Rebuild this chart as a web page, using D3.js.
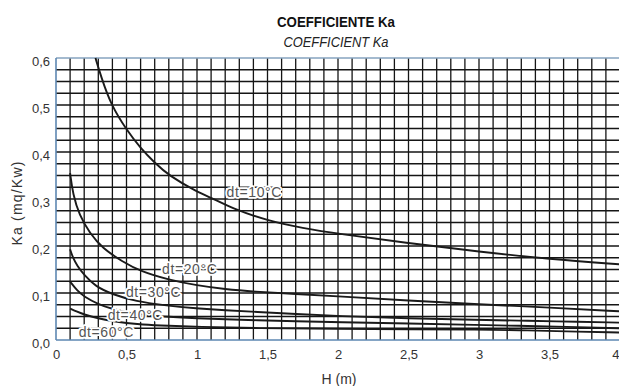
<!DOCTYPE html>
<html>
<head>
<meta charset="utf-8">
<script src="https://cdn.jsdelivr.net/npm/d3@7"></script>
<style>
  body { margin: 0; background: #fff; }
  svg { display: block; font-family: "Liberation Sans", Arial, sans-serif; }
</style>
</head>
<body>
<div id="chart"></div>
<script>
// tick values and labels
const xTicks = [0, 0.5, 1, 1.5, 2, 2.5, 3, 3.5, 4];
const xTickLabels = ["0", "0,5", "1", "1,5", "2", "2,5", "3", "3,5", "4"];
const yTicks = [0, 0.1, 0.2, 0.3, 0.4, 0.5, 0.6];
const yTickLabels = ["0,0", "0,1", "0,2", "0,3", "0,4", "0,5", "0,6"];

// curves: [H (m), Ka]
const dt10 = [[0.28, 0.6], [0.32, 0.56], [0.39, 0.5], [0.5, 0.447], [0.6, 0.408], [0.7, 0.377],
  [0.8, 0.35], [1.0, 0.315], [1.12, 0.3], [1.25, 0.28], [1.5, 0.254], [1.75, 0.238], [2, 0.226],
  [2.5, 0.206], [3, 0.188], [3.5, 0.172], [4, 0.161]];
const dt20 = [[0.1, 0.355], [0.12, 0.31], [0.165, 0.266], [0.24, 0.227], [0.33, 0.195], [0.47, 0.167],
  [0.6, 0.146], [0.8, 0.128], [1.0, 0.116], [1.2, 0.108], [1.4, 0.103], [1.7, 0.098], [2, 0.093],
  [2.5, 0.084], [3, 0.076], [3.5, 0.069], [4, 0.061]];
const dt30 = [[0.1, 0.193], [0.12, 0.175], [0.15, 0.158], [0.2, 0.138], [0.28, 0.114], [0.4, 0.097],
  [0.57, 0.082], [0.76, 0.074], [1.0, 0.067], [1.2, 0.063], [1.42, 0.06], [1.7, 0.055], [2, 0.051],
  [2.5, 0.046], [3, 0.043], [3.3, 0.041], [3.5, 0.04], [4, 0.037]];
const dt40 = [[0.1, 0.124], [0.15, 0.105], [0.2, 0.092], [0.3, 0.076], [0.4, 0.066], [0.5, 0.059],
  [0.6, 0.054], [0.8, 0.049], [1.0, 0.046], [1.2, 0.044], [1.42, 0.042], [1.7, 0.04], [2, 0.038],
  [2.5, 0.035], [3, 0.032], [3.3, 0.03], [3.5, 0.029], [4, 0.025]];
const dt60 = [[0.1, 0.067], [0.15, 0.06], [0.2, 0.054], [0.3, 0.046], [0.4, 0.04], [0.5, 0.036],
  [0.6, 0.033], [0.8, 0.03], [1.0, 0.028], [1.42, 0.025], [2, 0.024], [2.5, 0.023], [3, 0.022],
  [3.3, 0.021], [3.5, 0.019], [4, 0.016]];

const curveNames = ["dt=10°C", "dt=20°C", "dt=30°C", "dt=40°C", "dt=60°C"];
// where each curve's label starts, in data units
const labelAt = [[1.21, 0.315], [0.752, 0.152], [0.496, 0.103], [0.367, 0.053], [0.161, 0.018]];

const W = 619, H = 386;
const margin = { top: 58, left: 56 };
const width = 564, height = 282;

const svg = d3.select("#chart").append("svg")
  .attr("width", W)
  .attr("height", H);

const g = svg.append("g")
  .attr("transform", `translate(${margin.left},${margin.top})`);

const x = d3.scaleLinear().domain([0, 4]).range([0, width]);
const y = d3.scaleLinear().domain([0, 0.6]).range([height, 0]);

// grid
const gridColor = "#151515";
g.append("g").selectAll("line")
  .data(d3.range(1, 40).map(i => i / 10))
  .enter().append("line")
  .attr("x1", d => x(d)).attr("x2", d => x(d))
  .attr("y1", 0).attr("y2", height)
  .attr("stroke", gridColor)
  .attr("stroke-width", 1.3);

g.append("g").selectAll("line")
  .data(d3.range(1, 24).map(i => i * 0.025))
  .enter().append("line")
  .attr("x1", 0).attr("x2", width)
  .attr("y1", d => y(d)).attr("y2", d => y(d))
  .attr("stroke", gridColor)
  .attr("stroke-width", 1.3);

// blue frame
const frame = "#5d87b2";
g.append("line").attr("x1", 0).attr("x2", width).attr("y1", 0).attr("y2", 0)
  .attr("stroke", "#86a3bf").attr("stroke-width", 1.6);
g.append("line").attr("x1", 0).attr("x2", width).attr("y1", height).attr("y2", height)
  .attr("stroke", frame).attr("stroke-width", 1.6);
g.append("line").attr("x1", 0).attr("x2", 0).attr("y1", 0).attr("y2", height)
  .attr("stroke", frame).attr("stroke-width", 1.6);

// axes
const yAxis = d3.axisLeft(y)
  .tickValues(yTicks)
  .tickFormat((d, i) => yTickLabels[i])
  .tickSize(0)
  .tickPadding(6);
const yg = g.append("g").call(yAxis);
yg.select(".domain").remove();
yg.selectAll("text")
  .attr("dy", "0.55em")
  .style("font-size", "13px")
  .attr("fill", "#333");

const xAxis = d3.axisBottom(x)
  .tickValues(xTicks)
  .tickFormat((d, i) => xTickLabels[i])
  .tickSize(0)
  .tickPadding(10);
const xg = g.append("g").attr("transform", `translate(0,${height})`).call(xAxis);
xg.select(".domain").remove();
xg.selectAll("text")
  .style("font-size", "13px")
  .attr("fill", "#333");
// last label sits against the right edge of the page
xg.selectAll("text").filter((d, i) => i === xTicks.length - 1)
  .attr("text-anchor", "end")
  .attr("dx", "-1");

// curves
const line = d3.line()
  .x(d => x(d[0]))
  .y(d => y(d[1]))
  .curve(d3.curveBasis);

const series = [dt10, dt20, dt30, dt40, dt60];
g.append("g").selectAll("path")
  .data(series)
  .enter().append("path")
  .attr("d", line)
  .attr("fill", "none")
  .attr("stroke", "#1a1a1a")
  .attr("stroke-width", 1.9);

// curve labels
g.append("g").selectAll("text")
  .data(curveNames)
  .enter().append("text")
  .attr("x", (d, i) => x(labelAt[i][0]))
  .attr("y", (d, i) => y(labelAt[i][1]))
  .attr("dy", "0.36em")
  .style("font-size", "14px")
  .style("letter-spacing", "0.6px")
  .style("paint-order", "stroke")
  .attr("stroke", "#fff")
  .attr("stroke-width", 3.5)
  .attr("stroke-linejoin", "round")
  .attr("fill", "#555")
  .text(d => d);

// axis titles
svg.append("text")
  .attr("x", 339)
  .attr("y", 384)
  .attr("text-anchor", "middle")
  .style("font-size", "14px")
  .attr("fill", "#333")
  .text("H (m)");

svg.append("text")
  .attr("transform", "translate(22,203) rotate(-90)")
  .attr("text-anchor", "middle")
  .style("font-size", "14px")
  .style("letter-spacing", "1.2px")
  .attr("fill", "#333")
  .text("Ka (mq/Kw)");

// titles
svg.append("text")
  .attr("x", 336)
  .attr("y", 26.5)
  .attr("text-anchor", "middle")
  .attr("textLength", 118)
  .attr("lengthAdjust", "spacingAndGlyphs")
  .style("font-weight", "bold")
  .style("font-size", "14px")
  .attr("fill", "#111")
  .text("COEFFICIENTE Ka");

svg.append("text")
  .attr("x", 336)
  .attr("y", 46.5)
  .attr("text-anchor", "middle")
  .attr("textLength", 105)
  .attr("lengthAdjust", "spacingAndGlyphs")
  .style("font-style", "italic")
  .style("font-size", "14px")
  .attr("fill", "#222")
  .text("COEFFICIENT Ka");
</script>
</body>
</html>
